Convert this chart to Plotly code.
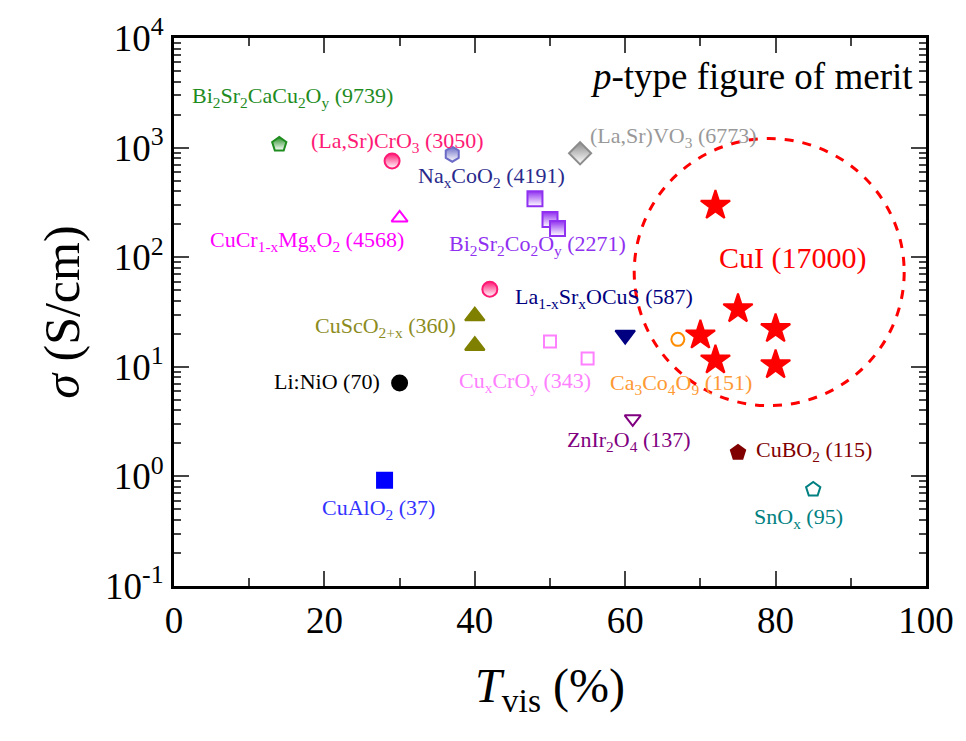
import numpy as np
import plotly.graph_objects as go

# ---------------- data ----------------
materials = ["Bi2Sr2CaCu2Oy", "(La,Sr)CrO3", "NaxCoO2", "(La,Sr)VO3", "Bi2Sr2Co2Oy",
             "CuCr1-xMgxO2", "La1-xSrxOCuS", "CuScO2+x", "Li:NiO", "CuxCrOy",
             "Ca3Co4O9", "ZnIr2O4", "CuBO2", "CuAlO2", "SnOx", "CuI"]

tvis = {
    "Bi2Sr2CaCu2Oy": [14],
    "(La,Sr)CrO3": [29, 42],
    "NaxCoO2": [37],
    "(La,Sr)VO3": [54],
    "Bi2Sr2Co2Oy": [48, 50, 51],
    "CuCr1-xMgxO2": [30],
    "La1-xSrxOCuS": [60],
    "CuScO2+x": [40, 40],
    "Li:NiO": [30],
    "CuxCrOy": [50, 55],
    "Ca3Co4O9": [67],
    "ZnIr2O4": [61],
    "CuBO2": [75],
    "CuAlO2": [28],
    "SnOx": [85],
    "CuI": [72, 75, 70, 80, 72, 80],
}
sigma = {
    "Bi2Sr2CaCu2Oy": [1070],
    "(La,Sr)CrO3": [755, 51],
    "NaxCoO2": [870],
    "(La,Sr)VO3": [887],
    "Bi2Sr2Co2Oy": [342, 221, 183],
    "CuCr1-xMgxO2": [228],
    "La1-xSrxOCuS": [19.5],
    "CuScO2+x": [29, 15.6],
    "Li:NiO": [7.1],
    "CuxCrOy": [17.0, 11.9],
    "Ca3Co4O9": [17.8],
    "ZnIr2O4": [3.35],
    "CuBO2": [1.65],
    "CuAlO2": [0.92],
    "SnOx": [0.76],
    "CuI": [296, 33.7, 19.4, 22.2, 11.5, 10.4],
}

labels = {
    "Bi2Sr2CaCu2Oy": "Bi<sub>2</sub>Sr<sub>2</sub>CaCu<sub>2</sub>O<sub>y</sub> (9739)",
    "(La,Sr)CrO3": "(La,Sr)CrO<sub>3</sub> (3050)",
    "NaxCoO2": "Na<sub>x</sub>CoO<sub>2</sub> (4191)",
    "(La,Sr)VO3": "(La,Sr)VO<sub>3</sub> (6773)",
    "Bi2Sr2Co2Oy": "Bi<sub>2</sub>Sr<sub>2</sub>Co<sub>2</sub>O<sub>y</sub> (2271)",
    "CuCr1-xMgxO2": "CuCr<sub>1-x</sub>Mg<sub>x</sub>O<sub>2</sub> (4568)",
    "La1-xSrxOCuS": "La<sub>1-x</sub>Sr<sub>x</sub>OCuS (587)",
    "CuScO2+x": "CuScO<sub>2+x</sub> (360)",
    "Li:NiO": "Li:NiO (70)",
    "CuxCrOy": "Cu<sub>x</sub>CrO<sub>y</sub> (343)",
    "Ca3Co4O9": "Ca<sub>3</sub>Co<sub>4</sub>O<sub>9</sub> (151)",
    "ZnIr2O4": "ZnIr<sub>2</sub>O<sub>4</sub> (137)",
    "CuBO2": "CuBO<sub>2</sub> (115)",
    "CuAlO2": "CuAlO<sub>2</sub> (37)",
    "SnOx": "SnO<sub>x</sub> (95)",
    "CuI": "CuI (17000)",
}
# label anchor position (T_vis, sigma) and horizontal anchor
label_x = {
    "Bi2Sr2CaCu2Oy": 2.1, "(La,Sr)CrO3": 17.9, "NaxCoO2": 32.2, "(La,Sr)VO3": 55.1,
    "Bi2Sr2Co2Oy": 36.3, "CuCr1-xMgxO2": 4.5, "La1-xSrxOCuS": 45.1, "CuScO2+x": 37.8,
    "Li:NiO": 27.7, "CuxCrOy": 37.6, "Ca3Co4O9": 57.7, "ZnIr2O4": 52.0,
    "CuBO2": 77.1, "CuAlO2": 19.4, "SnOx": 76.9, "CuI": 82.3,
}
label_y = {
    "Bi2Sr2CaCu2Oy": 2900, "(La,Sr)CrO3": 1120, "NaxCoO2": 540, "(La,Sr)VO3": 1260,
    "Bi2Sr2Co2Oy": 128, "CuCr1-xMgxO2": 140, "La1-xSrxOCuS": 42.5, "CuScO2+x": 23,
    "Li:NiO": 7.3, "CuxCrOy": 7.3, "Ca3Co4O9": 7.0, "ZnIr2O4": 2.12,
    "CuBO2": 1.7, "CuAlO2": 0.50, "SnOx": 0.42, "CuI": 99,
}
label_anchor = {"CuScO2+x": "right", "Li:NiO": "right", "CuI": "center"}

colors = {
    "Bi2Sr2CaCu2Oy": "#1E8C1E", "(La,Sr)CrO3": "#FF1A75", "NaxCoO2": "#6B6BC7",
    "(La,Sr)VO3": "#8C8C8C", "Bi2Sr2Co2Oy": "#9030F0", "CuCr1-xMgxO2": "#FF00FF",
    "La1-xSrxOCuS": "#000080", "CuScO2+x": "#808000", "Li:NiO": "#000000",
    "CuxCrOy": "#FF80FF", "Ca3Co4O9": "#FF8C00", "ZnIr2O4": "#800080",
    "CuBO2": "#800000", "CuAlO2": "#0000FF", "SnOx": "#008080", "CuI": "#FF0000",
}
text_colors = dict(colors)
text_colors.update({"NaxCoO2": "#2A2A8C", "(La,Sr)VO3": "#999999",
                    "Ca3Co4O9": "#FF9933", "CuAlO2": "#3333FF", "CuScO2+x": "#8C8C1E"})

symbols = {
    "Bi2Sr2CaCu2Oy": "pentagon", "(La,Sr)CrO3": "circle", "NaxCoO2": "hexagon",
    "(La,Sr)VO3": "diamond", "Bi2Sr2Co2Oy": "square", "CuCr1-xMgxO2": "triangle-up-open",
    "La1-xSrxOCuS": "triangle-down", "CuScO2+x": "triangle-up", "Li:NiO": "circle",
    "CuxCrOy": "square-open", "Ca3Co4O9": "circle-open", "ZnIr2O4": "triangle-down-open",
    "CuBO2": "pentagon", "CuAlO2": "square", "SnOx": "pentagon-open", "CuI": "star",
}
half_filled = {"Bi2Sr2CaCu2Oy", "(La,Sr)CrO3", "NaxCoO2", "(La,Sr)VO3", "Bi2Sr2Co2Oy"}
sizes = {"CuI": 22, "(La,Sr)VO3": 17, "CuCr1-xMgxO2": 14, "ZnIr2O4": 14,
         "CuScO2+x": 17, "La1-xSrxOCuS": 17, "CuxCrOy": 12, "Ca3Co4O9": 13}

# CuI dashed circle bounds (T_vis, sigma)
circle_x = [61.2, 97.1]
circle_y = [4.42, 1209]

x_ticks = [0, 20, 40, 60, 80, 100]
y_ticks = [0.1, 1, 10, 100, 1000, 10000]
y_ticktext = ["10<sup>-1</sup>", "10<sup>0</sup>", "10<sup>1</sup>",
              "10<sup>2</sup>", "10<sup>3</sup>", "10<sup>4</sup>"]

FONT = "Liberation Serif"

fig = go.Figure()
for m in materials:
    marker = dict(symbol=symbols[m], size=sizes.get(m, 15), color=colors[m],
                  line=dict(color=colors[m], width=2))
    if m in half_filled:
        marker["gradient"] = dict(type="vertical", color="white")
    fig.add_trace(go.Scatter(x=tvis[m], y=sigma[m], mode="markers", marker=marker,
                             name=m, showlegend=False, cliponaxis=False))
    anchor = label_anchor.get(m, "left")
    fig.add_annotation(x=label_x[m], y=np.log10(label_y[m]), xref="x", yref="y",
                       text=labels[m], showarrow=False, xanchor=anchor, yanchor="middle",
                       font=dict(family=FONT, size=30 if m == "CuI" else 22,
                                 color=text_colors[m]))

fig.add_shape(type="circle", xref="x", yref="y",
              x0=circle_x[0], x1=circle_x[1], y0=circle_y[0], y1=circle_y[1],
              line=dict(color="#FF0000", width=3, dash="dash"), layer="below")

fig.add_annotation(x=0.985, y=0.93, xref="paper", yref="paper",
                   text="<i>p</i>-type figure of merit", showarrow=False,
                   xanchor="right", yanchor="middle",
                   font=dict(family=FONT, size=37, color="black"))

minor_y = [k * 10.0 ** e for e in range(-1, 4) for k in range(2, 10)]

fig.update_layout(
    width=966, height=741,
    margin=dict(l=174, r=31, t=30, b=155),
    paper_bgcolor="white", plot_bgcolor="white",
    font=dict(family=FONT, color="black"),
    showlegend=False,
    xaxis=dict(range=[0, 100], tickvals=x_ticks, ticks="inside", ticklen=15, tickwidth=2,
               showline=True, linewidth=3, linecolor="black", mirror="ticks",
               showgrid=False, zeroline=False,
               minor=dict(dtick=10, tick0=0, ticks="inside", ticklen=8, tickwidth=2),
               tickfont=dict(family=FONT, size=37),
               title=dict(text="<i>T</i><sub>vis</sub> (%)", font=dict(family=FONT, size=48),
                          standoff=28)),
    yaxis=dict(type="log", range=[-1, 4], tickvals=y_ticks, ticktext=y_ticktext,
               ticks="inside", ticklen=15, tickwidth=2,
               showline=True, linewidth=3, linecolor="black", mirror="ticks",
               showgrid=False, zeroline=False,
               minor=dict(tickvals=minor_y, ticks="inside", ticklen=7, tickwidth=2),
               tickfont=dict(family=FONT, size=37),
               title=dict(text="<i>σ</i> (S/cm)", font=dict(family=FONT, size=50),
                          standoff=10)),
)

fig.write_html("out.html")
